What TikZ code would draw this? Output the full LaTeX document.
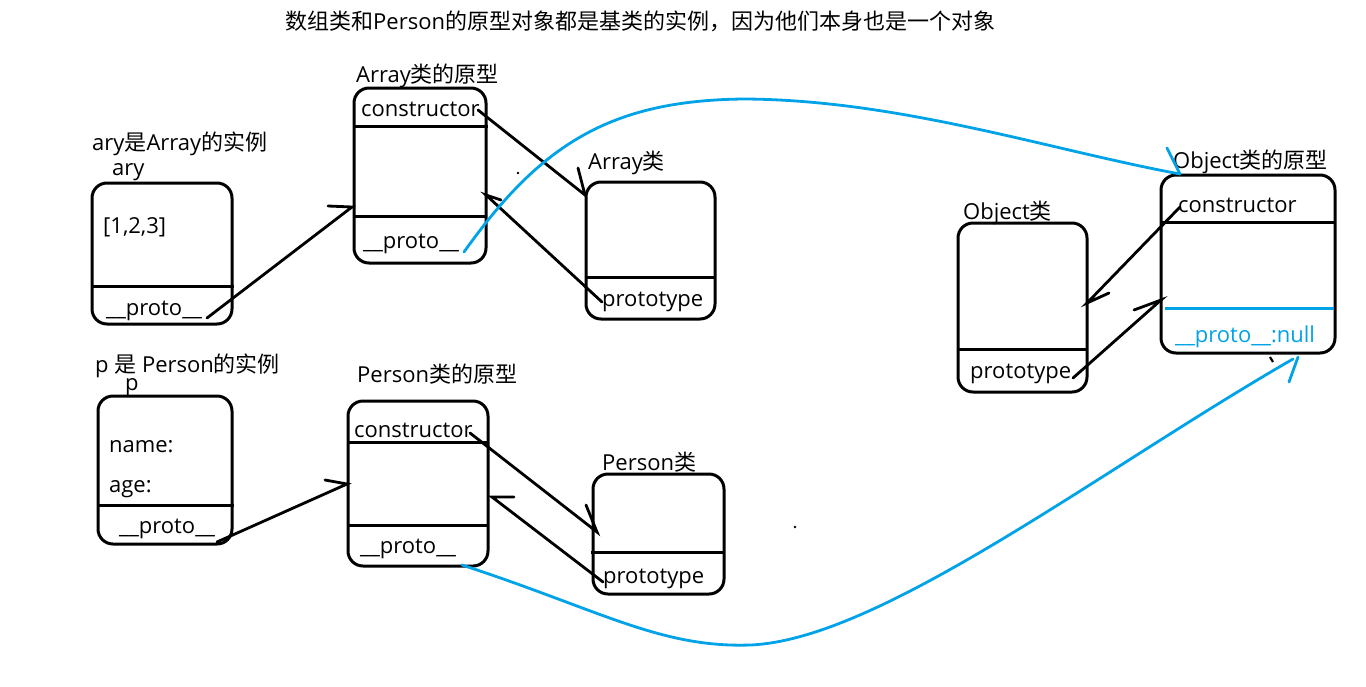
\documentclass[tikz,border=0pt]{standalone}
\usepackage{fontspec}
\setmainfont{Open Sans}
\newfontfamily\cjk{Noto Sans CJK SC}
\usetikzlibrary{fit}
\definecolor{pblue}{RGB}{0,162,232}
\tikzset{
 box/.style={draw, line width=3pt, rounded corners=15pt, inner sep=0pt},
 divider/.style={line width=3pt},
 conn/.style={line width=2.8pt, line cap=round},
 bconn/.style={conn, draw=pblue},
 lbl/.style={anchor=base west, inner sep=0pt, font=\fontsize{22}{26}\selectfont},
}
\begin{document}
\begin{tikzpicture}[x=1pt,y=-1pt]
\useasboundingbox (0,0) rectangle (1366,686);
% boxes
\node[box, fit={(92,183) (232,324)}] (ary) {};
\node[box, fit={(354,88) (486,263)}] (ap) {};
\node[box, fit={(586,182) (715,319)}] (ac) {};
\node[box, fit={(958,223) (1087,392)}] (oc) {};
\node[box, fit={(1161,175) (1335,353)}] (op) {};
\node[box, fit={(98,396) (232,544)}] (p) {};
\node[box, fit={(348,401) (488,566)}] (pp) {};
\node[box, fit={(593,474) (724,594)}] (pc) {};
% dividers
\draw[divider] (92,286) -- (234,286);
\draw[divider] (354,126) -- (488,126);
\draw[divider] (354,216) -- (486,216);
\draw[divider] (586,277) -- (715,277);
\draw[divider] (958,349) -- (1087,349);
\draw[divider] (1161,222) -- (1335,222);
\draw[divider, draw=pblue] (1165,308) -- (1334,308);
\draw[divider] (98,505) -- (234,505);
\draw[divider] (348,442) -- (488,442);
\draw[divider] (348,525) -- (488,525);
\draw[divider] (591,552) -- (725,552);
% labels
\node[lbl] (title) at (285,29) {{\cjk 数组类和}Person{\cjk 的原型对象都是基类的实例，因为他们本身也是一个对象}};
\node[lbl] (aryT) at (92,150) {ary{\cjk 是}Array{\cjk 的实例}};
\node[lbl] (aryN) at (112,175) {ary};
\node[lbl] (arr) at (103,233) {[1,2,3]};
\node[lbl] (aryP) at (106,315) {\_\_proto\_\_};
\node[lbl] (apT) at (356,82) {Array{\cjk 类的原型}};
\node[lbl] (apC) at (361,116) {constructor};
\node[lbl] (apP) at (363,248) {\_\_proto\_\_};
\node[lbl] (acT) at (588,169) {Array{\cjk 类}};
\node[lbl] (acP) at (602,306) {prototype};
\node[lbl] (opT) at (1173,168) {Object{\cjk 类的原型}};
\node[lbl] (ocT) at (963,219) {Object{\cjk 类}};
\node[lbl] (opC) at (1178,212) {constructor};
\node[lbl, text=pblue] (opP) at (1175,342) {\_\_proto\_\_:null};
\node[lbl] (ocP) at (970,378) {prototype};
\node[lbl] (pT) at (95,372) {p {\cjk 是} Person{\cjk 的实例}};
\node[lbl] (pN) at (125,390) {p};
\node[lbl] (pname) at (109,452) {name:};
\node[lbl] (page) at (109,492) {age:};
\node[lbl] (pP) at (119,533) {\_\_proto\_\_};
\node[lbl] (ppT) at (357,382) {Person{\cjk 类的原型}};
\node[lbl] (ppC) at (354,437) {constructor};
\node[lbl] (ppP) at (360,553) {\_\_proto\_\_};
\node[lbl] (pcT) at (602,470) {Person{\cjk 类}};
\node[lbl] (pcP) at (603,583) {prototype};
% connector end points
\coordinate (a1) at (207,318); \coordinate (a2) at (352,207); \coordinate (a2b) at (328,206);
\coordinate (b1) at (478,110); \coordinate (b2) at (585,195); \coordinate (b2b) at (578,168);
\coordinate (c1) at (602,302); \coordinate (c2) at (486,195); \coordinate (c2b) at (501,200);
\coordinate (d1) at (1180,207); \coordinate (d2) at (1087,303); \coordinate (d2b) at (1109,293);
\coordinate (e1) at (1073,378); \coordinate (e2) at (1161,300); \coordinate (e2b) at (1134,310);
\coordinate (f1) at (217,542); \coordinate (f2) at (347,484); \coordinate (f2b) at (325,480);
\coordinate (g1) at (470,433); \coordinate (g2) at (597,532); \coordinate (g2b) at (586,505);
\coordinate (h1) at (603,582); \coordinate (h2) at (492,497); \coordinate (h2b) at (514,497);
\coordinate (u1) at (464,252); \coordinate (um) at (745,99); \coordinate (u2) at (1180,174); \coordinate (u2b) at (1167,148);
\coordinate (v1) at (462,565); \coordinate (vm) at (750,645); \coordinate (v2) at (1293,359); \coordinate (v2b) at (1289,382); \coordinate (v2c) at (1298,357);
% black connectors
\draw[conn] (a1) -- (a2) -- (a2b);
\draw[conn] (b1) -- (b2) -- (b2b);
\draw[conn] (c1) -- (c2) -- (c2b);
\draw[conn] (d1) -- (d2) -- (d2b);
\draw[conn] (e1) -- (e2) -- (e2b);
\draw[conn] (f1) -- (f2) -- (f2b);
\draw[conn] (g1) -- (g2) -- (g2b);
\draw[conn] (h1) -- (h2) -- (h2b);
% blue connectors
\draw[bconn] (u1) .. controls (540,145) and (610,100) .. (um) .. controls (900,100) and (1050,150) .. (u2);
\draw[bconn] (u2) -- (u2b);
\draw[bconn] (v1) .. controls (600,610) and (660,648) .. (vm) .. controls (880,640) and (1100,470) .. (v2);
\draw[bconn] (v2c) -- (v2b);
% stray marks
\fill (518,173) circle (1.4pt);
\fill (795,527) circle (1.4pt);
\draw[line width=2.2pt] (1270,357) -- (1273,362);
\end{tikzpicture}
\end{document}
